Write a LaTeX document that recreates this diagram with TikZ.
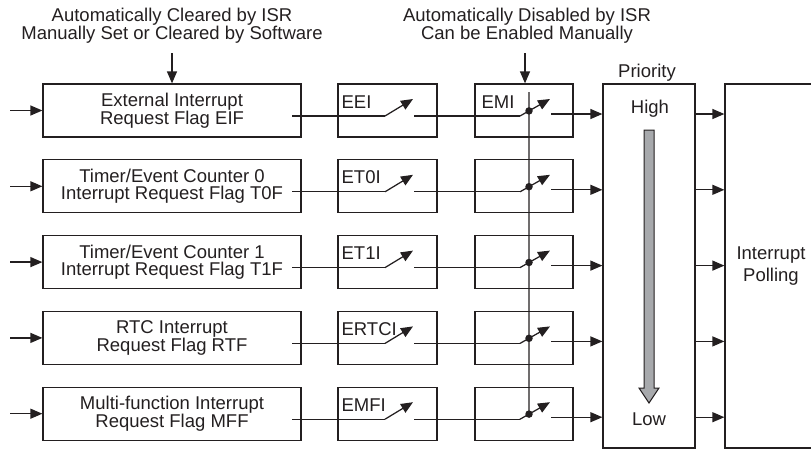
\documentclass[tikz,border=0pt]{standalone}
\usepackage{fontspec}
\setmainfont{Liberation Sans}
\usetikzlibrary{arrows.meta,calc}
\definecolor{ink}{RGB}{35,31,32}
\definecolor{shaft}{RGB}{167,169,172}

\begin{document}
\begin{tikzpicture}[x=1pt,y=-1pt,line width=1.25pt,color=ink,
    every node/.style={inner sep=0pt},
    txt/.style={font=\fontsize{18.5}{17.6}\selectfont,align=center},
    flagbox/.style={draw,txt,font=\fontsize{18.5}{16.7}\selectfont,minimum width=258pt,minimum height=53pt},
    enbox/.style={draw,minimum width=99pt,minimum height=53pt},
    bigbox/.style={draw,minimum width=92pt,minimum height=364pt},
    arr/.style={-{Triangle[length=12pt,width=10pt]}},
    dot/.style={circle,fill=ink,minimum size=7.5pt}]
  \useasboundingbox (0,0) rectangle (811,450);

  % notes on top
  \node[txt] (note1) at (172,25.8) {Automatically Cleared by ISR\\Manually Set or Cleared by Software};
  \node[txt] (note2) at (527,25.8) {Automatically Disabled by ISR\\Can be Enabled Manually};

  % priority and polling
  \node[bigbox] (prio) at (649,266) {};
  \node[bigbox,txt,font=\fontsize{18.5}{21.6}\selectfont] (poll) at (771,266) {Interrupt\\Polling};
  \node[txt,anchor=base] (prioname) at (647,77) {Priority};
  \node[txt,anchor=base] (high) at (650,113) {High};
  \node[txt,anchor=base] (low) at (649,425) {Low};
  \draw[fill=shaft,line width=1pt] (644,130) -- (654,130) -- (654,388) -- (659,388)
    -- (649,403) -- (639,388) -- (644,388) -- cycle;

  \foreach \i/\flag/\en [evaluate=\i as \y using 84+75.8*\i] in {
      0/{External Interrupt\\Request Flag EIF}/EEI,
      1/{Timer/Event Counter 0\\Interrupt Request Flag T0F}/ET0I,
      2/{Timer/Event Counter 1\\Interrupt Request Flag T1F}/ET1I,
      3/{RTC Interrupt\\Request Flag RTF}/ERTCI,
      4/{Multi-function Interrupt\\Request Flag MFF}/EMFI}{
    \node[flagbox] (flag\i) at (172,\y+26.5) {\flag};
    \node[enbox] (en\i) at (387.5,\y+26.5) {};
    \node[enbox,minimum width=98pt] (mask\i) at (524,\y+26.5) {};
    \node[txt,anchor=base west] (enlab\i) at (341,\y+24) {\en};

    \coordinate (in\i) at (10,\y+26.5);
    \coordinate (a\i) at (292,\y+32);
    \coordinate (s\i) at (385,\y+32);
    \coordinate (e\i) at (413,\y+15);
    \coordinate (b\i) at (414,\y+32);
    \coordinate (m\i) at (520,\y+32);
    \coordinate (n\i) at (550,\y+15);
    \coordinate (o\i) at (551,\y+30);

    \draw[arr] (in\i) -- (flag\i.west);
    \draw (a\i) -- (s\i);
    \draw[arr] (s\i) -- (e\i);
    \draw (b\i) -- (m\i);
    \draw[arr] (m\i) -- (n\i);
    \node[dot] (d\i) at ($(m\i)!0.3!(n\i)$) {};
    \draw[arr] (o\i) -- (o\i -| prio.west);
    \draw[arr] (o\i -| prio.east) -- (o\i -| poll.west);
  }
  \node[txt,anchor=base west] (emilab) at (481,108) {EMI};

  % common line for the mask switches
  \coordinate (vtop) at (529,92);
  \draw (vtop) -- (d4.center);

  \coordinate (c1) at (172,53);
  \coordinate (c2) at (525,53);
  \draw[arr] (c1) -- (flag0.north);
  \draw[arr] (c2) -- (c2 |- mask0.north);
\end{tikzpicture}
\end{document}
